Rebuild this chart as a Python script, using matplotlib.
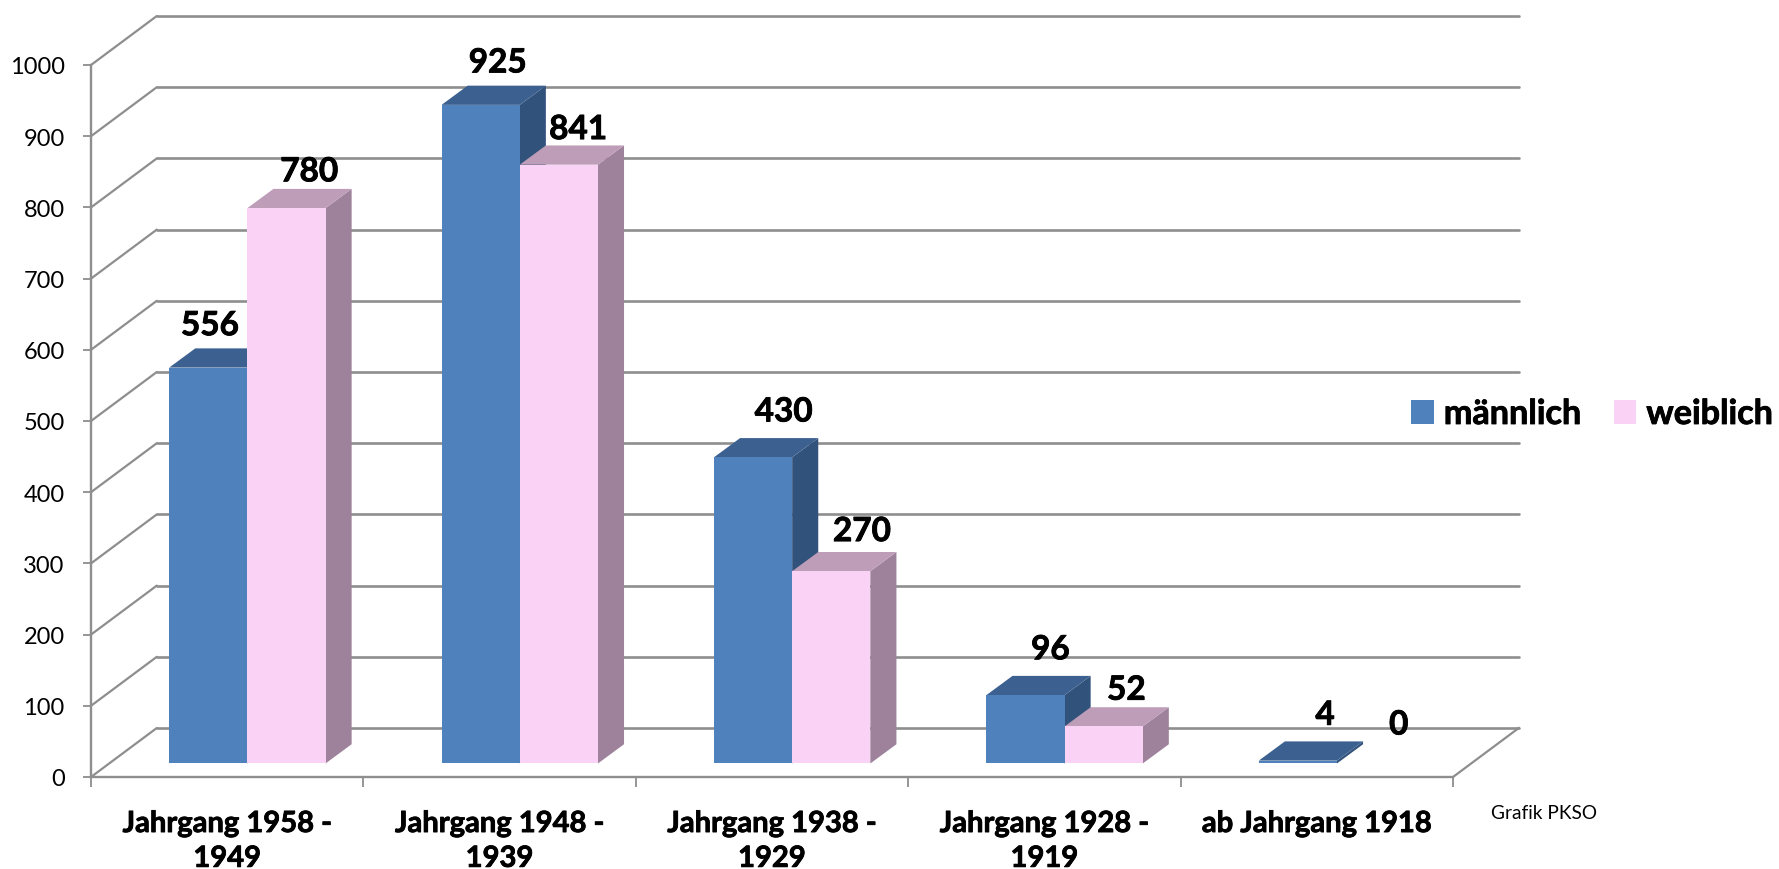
import matplotlib
matplotlib.use("Agg")
import matplotlib.pyplot as plt
import matplotlib.patheffects as pe
from matplotlib.patches import Patch
from matplotlib.ticker import FixedLocator, FixedFormatter, NullFormatter

plt.rcParams['font.family'] = ['Lato', 'DejaVu Sans']

categories = ["Jahrgang 1958 -\n1949", "Jahrgang 1948 -\n1939", "Jahrgang 1938 -\n1929",
              "Jahrgang 1928 -\n1919", "ab Jahrgang 1918"]
maennlich = [556, 925, 430, 96, 4]
weiblich = [780, 841, 270, 52, 0]
y_ticks = [0, 100, 200, 300, 400, 500, 600, 700, 800, 900, 1000]
series_names = ["männlich", "weiblich"]

# label offsets from back-centre of bar top, in shrunk reference pixels
off_m = [(1.5, 20), (15, 20), (27, 23), (22, 23), (24, 23)]
off_w = [(20, 15), (17, 14), (27, 18), (20, 15), (20, 17)]

GRID = "#8e8e8e"
C_M = dict(front="#4f81bd", top="#3c6191", side="#31527b")
C_W = dict(front="#f9d2f5", top="#be9db9", side="#9e829b")
BOLD = [pe.withStroke(linewidth=0.6, foreground="black")]

# depth of the chart (in data units)
DEPTH_X, DEPTH_Y = 0.2415, 68.8
# bar geometry (in data units)
BAR_START, BAR_W = 0.287, 0.287
BAR_DX, BAR_DY = 0.0958, 27.0
BAR_BASE = 19.0

fig = plt.figure(figsize=(17.79, 8.70), dpi=100)
ax = fig.add_axes([91 / 1779, (870 - 778) / 870, (1453 - 91) / 1779, 712 / 870])
ax.set_xlim(0, len(categories))
ax.set_ylim(0, 1000)
for s in ("top", "right"):
    ax.spines[s].set_visible(False)
for s in ("left", "bottom"):
    ax.spines[s].set_color(GRID)
    ax.spines[s].set_linewidth(1.7)

ax.yaxis.set_major_locator(FixedLocator(y_ticks))
ax.yaxis.set_major_formatter(FixedFormatter([str(v) for v in y_ticks]))
ax.tick_params(axis="y", length=6, width=1.3, color=GRID, labelsize=17, pad=13, labelcolor="black")

n = len(categories)
ax.xaxis.set_major_locator(FixedLocator(list(range(n + 1))))
ax.xaxis.set_major_formatter(NullFormatter())
ax.xaxis.set_minor_locator(FixedLocator([i + 0.5 for i in range(n)]))
ax.xaxis.set_minor_formatter(FixedFormatter(categories))
ax.tick_params(axis="x", which="major", length=7, width=1.3, color=GRID)
ax.tick_params(axis="x", which="minor", length=0, labelsize=21, pad=24.5, labelcolor="black")
for t in ax.xaxis.get_minorticklabels():
    t.set_fontweight("bold")
    t.set_linespacing(1.42)
    t.set_path_effects(BOLD)

# walls
for v in y_ticks:
    ax.plot([0, DEPTH_X], [v, v + DEPTH_Y], color=GRID, lw=1.6, clip_on=False, zorder=1,
            solid_capstyle="round")
    ax.plot([DEPTH_X, n + DEPTH_X], [v + DEPTH_Y, v + DEPTH_Y], color=GRID, lw=1.9, clip_on=False,
            zorder=1, solid_capstyle="round")
ax.plot([n, n + DEPTH_X], [0, DEPTH_Y], color=GRID, lw=1.6, clip_on=False, zorder=1)


def bar3d(x, value, c, z):
    if value == 0:
        return
    top = BAR_BASE + value
    ax.fill([x + BAR_W, x + BAR_W + BAR_DX, x + BAR_W + BAR_DX, x + BAR_W],
            [BAR_BASE, BAR_BASE + BAR_DY, top + BAR_DY, top],
            color=c["side"], lw=0, clip_on=False, zorder=z)
    ax.fill([x, x + BAR_DX, x + BAR_W + BAR_DX, x + BAR_W],
            [top, top + BAR_DY, top + BAR_DY, top],
            color=c["top"], lw=0, clip_on=False, zorder=z)
    ax.fill([x, x + BAR_W, x + BAR_W, x], [BAR_BASE, BAR_BASE, top, top],
            color=c["front"], lw=0, clip_on=False, zorder=z)


def label(x, value, off):
    k = 1.1346 * 0.72
    ax.annotate(str(value), (x + BAR_W / 2, BAR_BASE + value + BAR_DY),
                xytext=(off[0] * k, off[1] * k), textcoords="offset points",
                ha="center", va="center", fontsize=24, fontweight="bold", color="black",
                annotation_clip=False, zorder=30, path_effects=BOLD)


for i in range(n):
    xm = i + BAR_START
    xw = xm + BAR_W
    bar3d(xm, maennlich[i], C_M, 3 + i * 2)
    bar3d(xw, weiblich[i], C_W, 4 + i * 2)
    label(xm, maennlich[i], off_m[i])
    label(xw, weiblich[i], off_w[i])

handles = [Patch(facecolor=C_M["front"], edgecolor="none"), Patch(facecolor=C_W["front"], edgecolor="none")]
leg = fig.legend(handles, series_names, loc="center left", bbox_to_anchor=(1411 / 1779, 1 - 415 / 870),
                 ncol=2, frameon=False, borderpad=0, borderaxespad=0, handlelength=0.66, handleheight=0.66,
                 handletextpad=0.3, columnspacing=0.95, prop=dict(family="Lato", weight="bold", size=24.6))
for t in leg.get_texts():
    t.set_path_effects(BOLD)

fig.text(1491 / 1779, 1 - 814 / 870, "Grafik PKSO", fontsize=13.7, ha="left", va="center", color="black")

fig.savefig("out.png", dpi=100)
